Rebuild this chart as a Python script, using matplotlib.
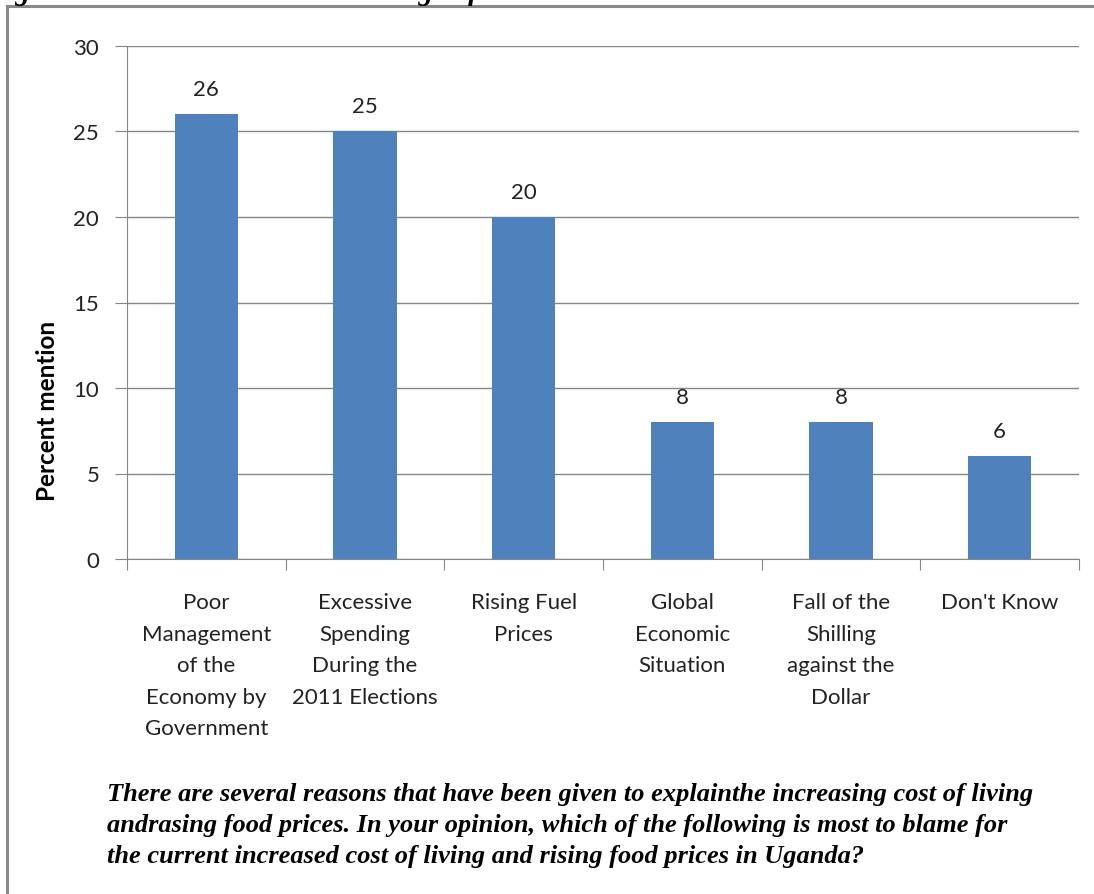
import matplotlib.pyplot as plt
from matplotlib.patches import Rectangle

categories = ['Poor\nManagement\nof the\nEconomy by\nGovernment',
              'Excessive\nSpending\nDuring the\n2011 Elections',
              'Rising Fuel\nPrices',
              'Global\nEconomic\nSituation',
              'Fall of the\nShilling\nagainst the\nDollar',
              "Don't Know"]
values = [26, 25, 20, 8, 8, 6]
yticks = [0, 5, 10, 15, 20, 25, 30]

caption = ("There are several reasons that have been given to explainthe increasing cost of living\n"
           "andrasing food prices. In your opinion, which of the following is most to blame for\n"
           "the current increased cost of living and rising food prices in Uganda?")

plt.rcParams['font.family'] = ['Lato', 'DejaVu Sans']
fs = 16

fig = plt.figure(figsize=(10.94, 8.95), dpi=100)

# outer frame, clipped at top/right like the source scan
fig.patches.append(Rectangle((7/1094, -0.1), 1.2, 1 - 7/895 + 0.1, transform=fig.transFigure,
                             fill=False, edgecolor='#888888', linewidth=2.2))
fig.text(-12/1094, 1 + 8/895, 'Figure 3: Perceived Factors Causing Inflation', ha='left', va='center',
         family='Liberation Serif', fontweight='bold', style='italic', fontsize=21)

ax = fig.add_axes([127/1094, 1 - 560/895, 952/1094, 513/895])
x = range(len(values))
ax.bar(x, values, width=0.4, color='#4F81BD', zorder=3)
for xi, v in zip(x, values):
    ax.text(xi, v + 0.9, str(v), ha='center', va='bottom', fontsize=fs, color='#222222')

ax.set_xlim(-0.5, len(values) - 0.5)
ax.set_ylim(0, 30)
ax.set_yticks(yticks)
ax.yaxis.grid(True, color='#868686', linewidth=1, zorder=0)
ax.set_xticks([i - 0.5 for i in range(len(values) + 1)], minor=False)
ax.set_xticklabels([])
ax.set_xticks(list(x), minor=True)
ax.set_xticklabels(categories, minor=True, fontsize=fs, linespacing=1.72, va='top', color='#222222')
ax.tick_params(axis='x', which='minor', length=0, pad=24)
ax.tick_params(axis='x', which='major', length=8, color='#868686', direction='out')
ax.tick_params(axis='y', length=9, color='#868686', labelsize=fs, pad=11, labelcolor='#222222')
for s in ['top', 'right']:
    ax.spines[s].set_visible(False)
for s in ['left', 'bottom']:
    ax.spines[s].set_color('#868686')
ax.set_ylabel('Percent mention', fontsize=17.5, fontweight='bold')
ax.yaxis.set_label_coords(-68/952, (560 - 411) / 513)

fig.text(107/1094, 1 - 783/895, caption, ha='left', va='top', family='Liberation Serif',
         style='italic', fontweight='bold', fontsize=19, linespacing=1.45)

fig.savefig('out.png', dpi=100)
